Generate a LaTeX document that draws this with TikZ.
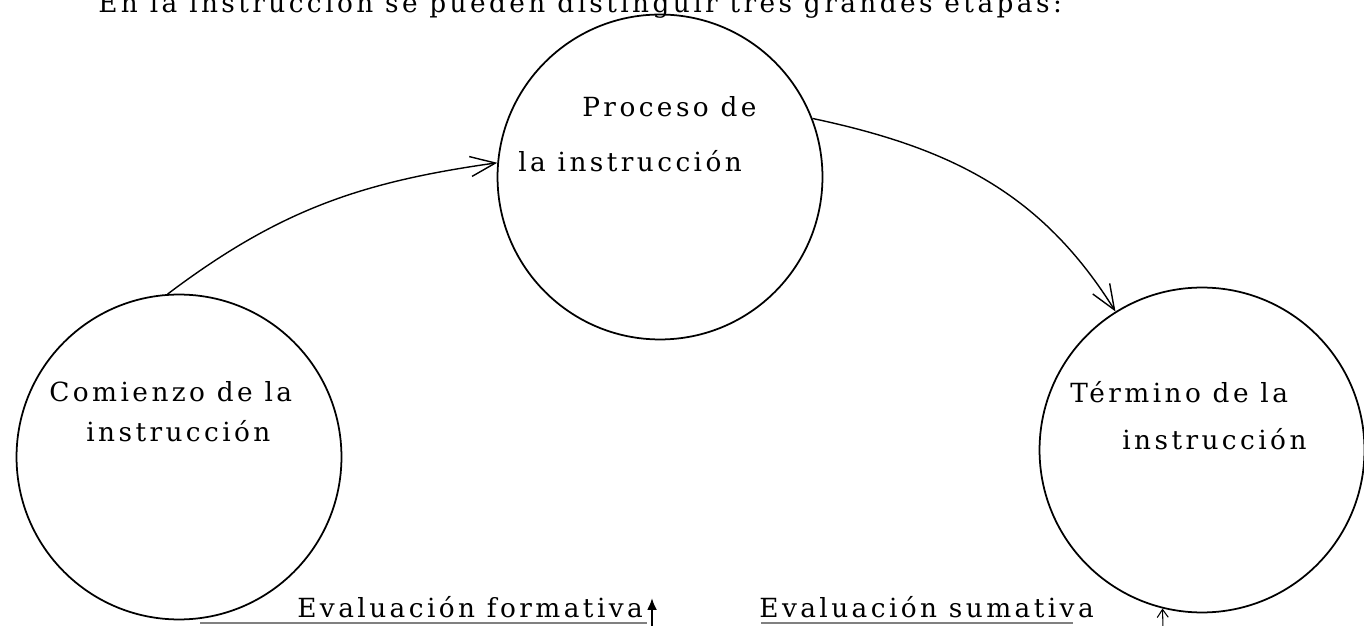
\documentclass[tikz,border=0pt]{standalone}
\usepackage{fontspec}
\usepackage{tikz}
\usetikzlibrary{arrows.meta}
\newfontfamily\maquina{DejaVu Serif}[LetterSpace=13]

\begin{document}
\begin{tikzpicture}[x=0.02cm,y=0.02cm]
		\tikzstyle{etapa}=[circle, draw, line width=1pt, minimum size=6.5cm, inner sep=0pt]
		\tikzstyle{texto}=[anchor=base west, inner sep=0pt, font=\maquina\fontsize{15}{18}\selectfont]
		\tikzstyle{flecha}=[line width=0.8pt, -{Straight Barb[length=5mm,width=4mm]}]
		\useasboundingbox (0,0) rectangle (1364,625);
		\clip (0,0) rectangle (1364,625);
		\node[texto] (frase) at (98,612) {En la instrucción se pueden distinguir tres grandes etapas:};
		% las tres etapas
		\node[etapa] (com) at (179,168) {};
		\node[etapa] (pro) at (660,448) {};
		\node[etapa] (ter) at (1202,175) {};
		\node[texto] (com1) at (49,223) {Comienzo de la};
		\node[texto] (com2) at (86,183) {instrucción};
		\node[texto] (pro1) at (582,508) {Proceso de};
		\node[texto] (pro2) at (518,453) {la instrucción};
		\node[texto] (ter1) at (1070,222) {Término de la};
		\node[texto] (ter2) at (1122,175) {instrucción};
		\draw[flecha] (com.94) to[out=37,in=188] (pro.175);
		\draw[flecha] (pro.21) to[out=-12,in=122] (ter.122);
		% evaluaciones
		\node[texto] (eform) at (297,8) {Evaluación formativa};
		\node[texto] (esum) at (759,8) {Evaluación sumativa};
		\coordinate (r1a) at (200,2); \coordinate (r1b) at (647,2);
		\coordinate (r2a) at (761,2); \coordinate (r2b) at (1073,2);
		\draw[gray, line width=1.2pt] (r1a) -- (r1b) (r2a) -- (r2b);
		\coordinate (fbase) at (652,-3); \coordinate (ftip) at (652,27);
		\draw[line width=1.2pt, -{Latex[length=2.4mm,width=2mm]}] (fbase) -- (ftip);
		\coordinate (sbase) at (1163,-3);
		\draw[line width=0.6pt, -{Straight Barb[length=1.6mm,width=2.2mm]}] (sbase) -- (ter.256);
	\end{tikzpicture}
\end{document}
